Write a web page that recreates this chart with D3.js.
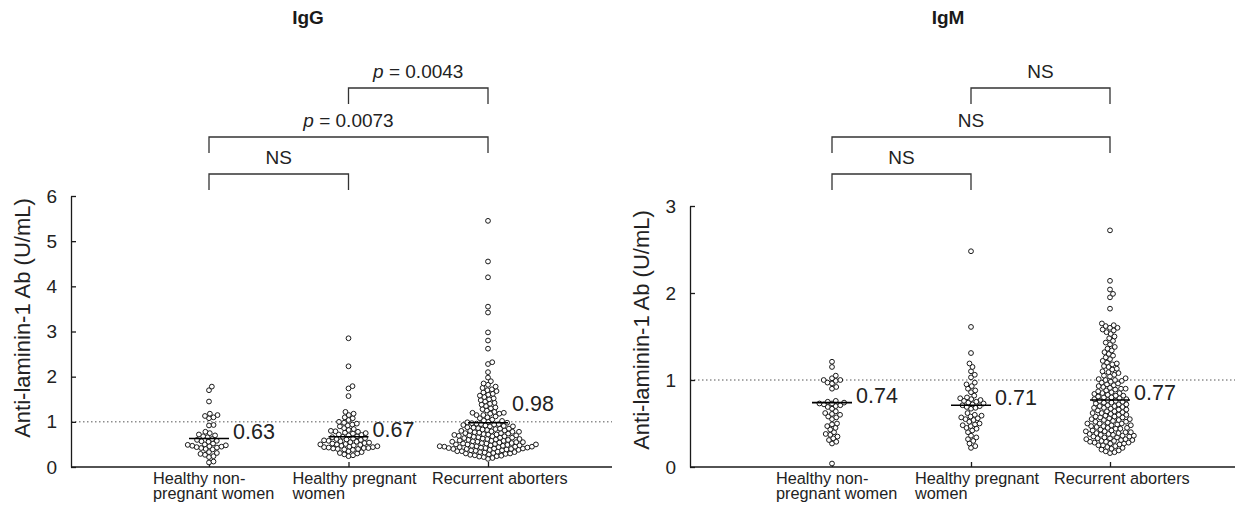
<!DOCTYPE html>
<html>
<head>
<meta charset="utf-8">
<script src="https://cdn.jsdelivr.net/npm/d3@7"></script>
<style>
  body { margin: 0; background: #fff; }
  svg { display: block; font-family: "Liberation Sans", Arial, sans-serif; }
</style>
</head>
<body>
<script>
// values, U/mL
const iggNonPregnant = [
  1.78, 1.7, 1.45, 1.18, 1.15, 1.13, 1.1, 1.08, 0.93, 0.92,
  0.78, 0.75, 0.72, 0.7, 0.68, 0.66, 0.62, 0.6, 0.58, 0.57, 0.56,
  0.52, 0.5, 0.49, 0.48, 0.47, 0.46, 0.45, 0.44, 0.43, 0.42, 0.4, 0.39,
  0.33, 0.31, 0.29, 0.27, 0.24, 0.22, 0.12, 0.1
];
const iggPregnant = [
  2.85, 2.23, 1.79, 1.74, 1.57, 1.22, 1.18, 1.15, 1.1, 1.08, 1.04,
  1.0, 0.98, 0.96, 0.94, 0.92, 0.9, 0.86, 0.84, 0.82, 0.8, 0.79, 0.78,
  0.76, 0.75, 0.74, 0.72, 0.71, 0.7, 0.68, 0.67, 0.66, 0.64, 0.63, 0.62,
  0.61, 0.6, 0.59, 0.58, 0.57, 0.56, 0.55, 0.54, 0.53, 0.52, 0.51, 0.5,
  0.5, 0.49, 0.48, 0.47, 0.46, 0.45, 0.44, 0.44, 0.43, 0.42, 0.42, 0.41,
  0.4, 0.4, 0.39, 0.38, 0.35, 0.33, 0.31, 0.3, 0.28, 0.26, 0.24
];
const iggRecurrent = [
  5.45, 4.55, 4.2, 3.55, 3.42, 2.98, 2.8, 2.62, 2.32, 2.28, 2.1, 1.98,
  1.9, 1.85, 1.82, 1.78, 1.75, 1.72, 1.7, 1.68, 1.65, 1.62, 1.6, 1.58,
  1.55, 1.52, 1.5, 1.48, 1.45, 1.42, 1.4, 1.38, 1.35, 1.32, 1.3, 1.28,
  1.25, 1.22, 1.2, 1.2, 1.18, 1.18, 1.15, 1.15, 1.12, 1.1, 1.08, 1.05,
  1.03, 1.02, 1.0, 0.99, 0.98, 0.97, 0.96, 0.95, 0.95, 0.94, 0.93, 0.92,
  0.91, 0.9, 0.9, 0.88, 0.87, 0.86, 0.85, 0.85, 0.84, 0.83, 0.82, 0.81,
  0.8, 0.8, 0.79, 0.78, 0.78, 0.77, 0.76, 0.75, 0.75, 0.74, 0.73, 0.72,
  0.72, 0.71, 0.7, 0.7, 0.69, 0.68, 0.68, 0.67, 0.66, 0.65, 0.65, 0.64,
  0.63, 0.62, 0.62, 0.61, 0.6, 0.6, 0.59, 0.58, 0.58, 0.57, 0.56, 0.56,
  0.55, 0.55, 0.54, 0.53, 0.53, 0.52, 0.52, 0.51, 0.5, 0.5, 0.5, 0.49,
  0.48, 0.48, 0.47, 0.47, 0.46, 0.46, 0.45, 0.45, 0.45, 0.44, 0.44, 0.43,
  0.43, 0.42, 0.42, 0.41, 0.41, 0.4, 0.4, 0.4, 0.39, 0.38, 0.38, 0.37,
  0.37, 0.36, 0.35, 0.35, 0.34, 0.33, 0.33, 0.32, 0.31, 0.3, 0.3, 0.29,
  0.28, 0.27, 0.26, 0.25, 0.24, 0.23, 0.22, 0.2, 0.18
];
const igmNonPregnant = [
  1.21, 1.15, 1.05, 1.02, 1.0, 1.0, 0.99, 0.97, 0.96, 0.92, 0.9,
  0.76, 0.75, 0.74, 0.73, 0.73, 0.72, 0.71, 0.7, 0.69, 0.67,
  0.64, 0.62, 0.61, 0.6, 0.58, 0.57, 0.55, 0.5, 0.49, 0.47, 0.45, 0.43,
  0.4, 0.38, 0.37, 0.35, 0.33, 0.31, 0.29, 0.27, 0.04
];
const igmPregnant = [
  2.48, 1.61, 1.31, 1.19, 1.15, 1.1, 1.06, 1.03, 0.97, 0.95, 0.93, 0.9,
  0.88, 0.86, 0.82, 0.8, 0.79, 0.78, 0.77, 0.76, 0.75, 0.74, 0.73, 0.72,
  0.71, 0.7, 0.69, 0.68, 0.67, 0.62, 0.6, 0.59, 0.58, 0.57, 0.56, 0.55,
  0.54, 0.52, 0.5, 0.49, 0.48, 0.47, 0.45, 0.44, 0.42, 0.4, 0.36, 0.34,
  0.32, 0.3, 0.27, 0.24, 0.22
];
const igmRecurrent = [
  2.72, 2.14, 2.04, 1.99, 1.95, 1.82, 1.65, 1.63, 1.62, 1.6, 1.6, 1.58,
  1.57, 1.55, 1.53, 1.5, 1.48, 1.45, 1.43, 1.41, 1.38, 1.36, 1.34, 1.32,
  1.3, 1.28, 1.26, 1.24, 1.22, 1.2, 1.19, 1.18, 1.16, 1.15, 1.13, 1.12,
  1.1, 1.09, 1.08, 1.06, 1.05, 1.04, 1.02, 1.01, 1.0, 1.0, 0.99, 0.98,
  0.97, 0.96, 0.95, 0.94, 0.93, 0.92, 0.91, 0.9, 0.9, 0.89, 0.88, 0.87,
  0.86, 0.85, 0.85, 0.84, 0.83, 0.82, 0.82, 0.81, 0.8, 0.8, 0.79, 0.78,
  0.78, 0.77, 0.76, 0.76, 0.75, 0.74, 0.74, 0.73, 0.72, 0.72, 0.71, 0.7,
  0.7, 0.69, 0.68, 0.68, 0.67, 0.66, 0.66, 0.65, 0.64, 0.64, 0.63, 0.62,
  0.62, 0.61, 0.6, 0.6, 0.59, 0.58, 0.58, 0.57, 0.57, 0.56, 0.55, 0.55,
  0.54, 0.54, 0.53, 0.52, 0.52, 0.51, 0.5, 0.5, 0.5, 0.49, 0.48, 0.48,
  0.47, 0.47, 0.46, 0.45, 0.45, 0.44, 0.44, 0.43, 0.42, 0.42, 0.41, 0.41,
  0.4, 0.4, 0.39, 0.39, 0.38, 0.38, 0.37, 0.37, 0.36, 0.36, 0.35, 0.35,
  0.34, 0.34, 0.33, 0.33, 0.32, 0.32, 0.31, 0.31, 0.3, 0.3, 0.29, 0.29,
  0.28, 0.28, 0.27, 0.27, 0.26, 0.25, 0.25, 0.24, 0.23, 0.22, 0.21, 0.2,
  0.19, 0.18, 0.17, 0.16
];

const categories = ["Healthy non-pregnant women", "Healthy pregnant women", "Recurrent aborters"];
const categoryLines = [["Healthy non-", "pregnant women"], ["Healthy pregnant", "women"], ["Recurrent aborters"]];
const iggMedians = [0.63, 0.67, 0.98];
const igmMedians = [0.74, 0.71, 0.77];
const comparisons = [[0, 1], [0, 2], [1, 2]];
const iggPValues = [null, "0.0073", "0.0043"];   // null -> NS
const igmPValues = [null, null, null];
const iggTicks = [0, 1, 2, 3, 4, 5, 6];
const igmTicks = [0, 1, 2, 3];
const cutoff = 1;

const width = 1235, height = 514;

const panels = [
  { title: "IgG", groups: [iggNonPregnant, iggPregnant, iggRecurrent], medians: iggMedians, pValues: iggPValues,
    ticks: iggTicks, axisX: 71, endX: 612, top: 196, catRange: [209, 488], titleX: 308, labelMid: 318, lift: [0, 0, 12] },
  { title: "IgM", groups: [igmNonPregnant, igmPregnant, igmRecurrent], medians: igmMedians, pValues: igmPValues,
    ticks: igmTicks, axisX: 690, endX: 1235, top: 206, catRange: [832, 1110], titleX: 948, labelMid: 330, lift: [0, 0, 0] }
];
const baseY = 467;
const bracketY = [174, 137, 88];
const ink = "#1a1a1a";

const svg = d3.select("body").append("svg")
  .attr("width", width)
  .attr("height", height);

// simple deterministic beeswarm: each point goes to the free x nearest the centre line
function swarm(values, y, D) {
  const placed = [];
  values.slice().sort((a, b) => a - b).forEach(v => {
    const py = y(v);
    const near = placed.filter(p => Math.abs(p.y - py) < D);
    const cand = [0];
    near.forEach(p => {
      const dx = Math.sqrt(D * D - (p.y - py) * (p.y - py));
      cand.push(p.x + dx, p.x - dx);
    });
    cand.sort((a, b) => Math.abs(a) - Math.abs(b));
    const x = cand.find(c => near.every(p => (p.x - c) ** 2 + (p.y - py) ** 2 >= D * D - 0.01));
    placed.push({ v: v, x: x, y: py });
  });
  return placed;
}

panels.forEach(P => {
  const g = svg.append("g");
  const yMax = d3.max(P.ticks);
  const y = d3.scaleLinear().domain([0, yMax]).range([baseY, P.top]);
  const x = d3.scalePoint().domain(categories).range(P.catRange);

  // title
  g.append("text")
    .attr("x", P.titleX).attr("y", 24)
    .attr("text-anchor", "middle")
    .attr("font-size", 19).attr("font-weight", "bold")
    .attr("fill", ink)
    .text(P.title);

  // cut-off line
  g.append("line")
    .attr("x1", P.axisX).attr("x2", P.endX)
    .attr("y1", y(cutoff)).attr("y2", y(cutoff))
    .attr("stroke", "#555").attr("stroke-width", 1)
    .attr("stroke-dasharray", "1.5,2.5");

  // y axis
  const yAxis = g.append("g")
    .attr("transform", "translate(" + P.axisX + ",0)")
    .call(d3.axisLeft(y).tickValues(P.ticks).tickFormat(d3.format("d"))
      .tickSizeInner(-5).tickSizeOuter(0).tickPadding(14));
  yAxis.select(".domain").attr("stroke", ink).attr("stroke-width", 1.3);
  yAxis.selectAll(".tick line").attr("stroke", ink).attr("stroke-width", 1.3);
  yAxis.selectAll(".tick text")
    .attr("font-size", 19).attr("fill", "#222")
    .attr("font-family", "Liberation Sans, Arial, sans-serif");

  g.append("text")
    .attr("transform", "translate(" + (P.axisX - 41) + "," + P.labelMid + ") rotate(-90)")
    .attr("text-anchor", "middle")
    .attr("font-size", 22).attr("fill", "#222")
    .text("Anti-laminin-1 Ab (U/mL)");

  // x baseline and category ticks
  g.append("line")
    .attr("x1", P.axisX).attr("x2", P.endX)
    .attr("y1", baseY).attr("y2", baseY)
    .attr("stroke", ink).attr("stroke-width", 1.6);
  const xAxis = g.append("g")
    .attr("transform", "translate(0," + baseY + ")")
    .call(d3.axisBottom(x).tickSizeInner(-5).tickSizeOuter(0).tickFormat(""));
  xAxis.select(".domain").remove();
  xAxis.selectAll(".tick line").attr("stroke", ink).attr("stroke-width", 1.3);

  // category labels, left aligned a little left of each group
  categories.forEach((c, i) => {
    const t = g.append("text")
      .attr("font-size", 16.3).attr("fill", "#222");
    categoryLines[i].forEach((line, j) => {
      t.append("tspan").attr("x", x(c) - 56).attr("y", 484 + j * 15).text(line);
    });
  });

  // dots
  P.groups.forEach((vals, i) => {
    const cx = x(categories[i]);
    g.append("g").selectAll("circle")
      .data(swarm(vals, y, 4.6))
      .join("circle")
      .attr("cx", d => cx + d.x)
      .attr("cy", d => d.y)
      .attr("r", 2.4)
      .attr("fill", "#fff")
      .attr("stroke", ink)
      .attr("stroke-width", 1);

    const m = P.medians[i];
    g.append("line")
      .attr("x1", cx - 20).attr("x2", cx + 20)
      .attr("y1", y(m)).attr("y2", y(m))
      .attr("stroke", "#000").attr("stroke-width", 1.6);
    g.append("text")
      .attr("x", cx + 24).attr("y", y(m) - P.lift[i])
      .attr("font-size", 21.5).attr("fill", "#222")
      .text(d3.format(".2f")(m));
  });

  // significance brackets
  comparisons.forEach((pair, k) => {
    const xa = x(categories[pair[0]]), xb = x(categories[pair[1]]);
    const by = bracketY[k];
    g.append("path")
      .attr("d", "M" + xa + "," + (by + 16) + "V" + by + "H" + xb + "V" + (by + 16))
      .attr("fill", "none").attr("stroke", "#333").attr("stroke-width", 1.3);
    const lab = g.append("text")
      .attr("x", (xa + xb) / 2).attr("y", by - 10)
      .attr("text-anchor", "middle")
      .attr("font-size", 19).attr("fill", "#222");
    const p = P.pValues[k];
    if (p === null) {
      lab.text("NS");
    } else {
      lab.append("tspan").attr("font-style", "italic").text("p");
      lab.append("tspan").text(" = " + p);
    }
  });
});
</script>
</body>
</html>
